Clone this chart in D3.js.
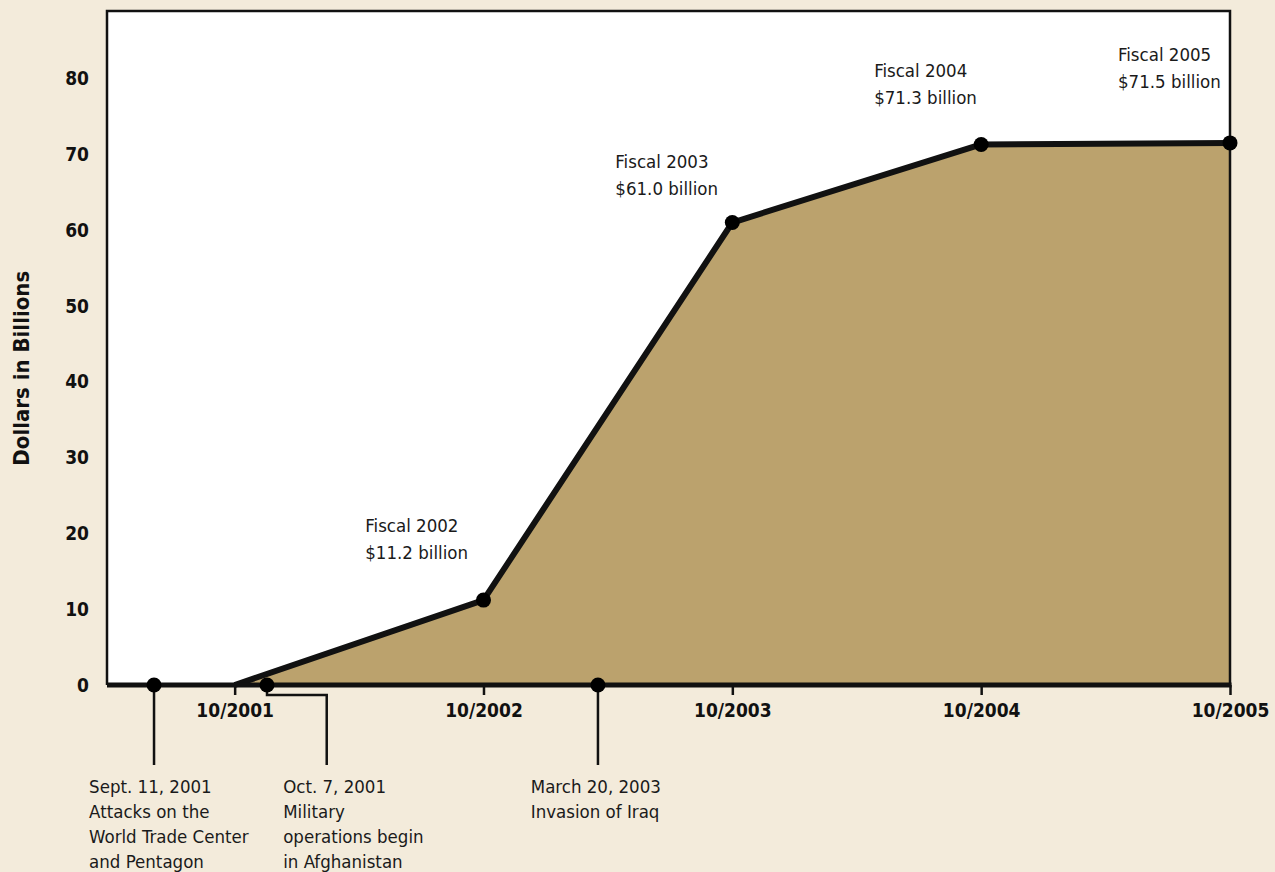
<!DOCTYPE html>
<html>
<head>
<meta charset="utf-8">
<script src="https://cdn.jsdelivr.net/npm/d3@7"></script>
<style>
  body { margin: 0; background: #f3ebdb; }
  svg text { font-family: "Liberation Sans Narrow", "Arial Narrow", "DejaVu Sans Condensed", sans-serif; }
</style>
</head>
<body>
<div id="chart"></div>
<script>
// fiscal year points (x in decimal years, 10/2001 = 2001.75)
const fiscalYears = [2001.75, 2002.75, 2003.75, 2004.75, 2005.75];
const spending = [0, 11.2, 61.0, 71.3, 71.5];
const fiscalNames = ["", "Fiscal 2002", "Fiscal 2003", "Fiscal 2004", "Fiscal 2005"];
const fiscalAmounts = ["", "$11.2 billion", "$61.0 billion", "$71.3 billion", "$71.5 billion"];
// where each fiscal label sits, in chart units [year, dollars]
const fiscalLabelAt = [null, [2002.275, 20.2], [2003.28, 68.2], [2004.32, 80.2], [2005.30, 82.3]];

const xTickYears = [2001.75, 2002.75, 2003.75, 2004.75, 2005.75];
const xTickLabels = ["10/2001", "10/2002", "10/2003", "10/2004", "10/2005"];
const yTicks = [0, 10, 20, 30, 40, 50, 60, 70, 80];

// events marked on the time axis
const eventYears = [2001.426, 2001.88, 2003.21];
const eventTextYears = [2001.165, 2001.945, 2002.94];
const eventElbowYears = [null, 2002.12, null];
const eventTexts = [
  ["Sept. 11, 2001", "Attacks on the", "World Trade Center", "and Pentagon"],
  ["Oct. 7, 2001", "Military", "operations begin", "in Afghanistan"],
  ["March 20, 2003", "Invasion of Iraq"]
];

const margin = {top: 11, left: 107};
const width = 1123, height = 674;

const svg = d3.select("#chart").append("svg")
  .attr("width", 1275)
  .attr("height", 872);

const g = svg.append("g")
  .attr("transform", `translate(${margin.left},${margin.top})`);

const x = d3.scaleLinear().domain([2001.237, 2005.75]).range([0, width]);
const y = d3.scaleLinear().domain([0, 88.9]).range([height, 0]);

const points = fiscalYears.map((yr, i) => ({yr, v: spending[i], i}));

// plot background
g.append("rect")
  .attr("width", width)
  .attr("height", height)
  .attr("fill", "#fff");

const area = d3.area().x(d => x(d.yr)).y0(y(0)).y1(d => y(d.v));
const line = d3.line().x(d => x(d.yr)).y(d => y(d.v));

g.append("path")
  .datum(points)
  .attr("d", area)
  .attr("fill", "#bba26d");

g.append("path")
  .datum(points)
  .attr("d", line)
  .attr("fill", "none")
  .attr("stroke", "#111")
  .attr("stroke-width", 6)
  .attr("stroke-linejoin", "round");

// frame (top, left, right)
g.append("path")
  .attr("d", `M0,${height} V0 H${width} V${height}`)
  .attr("fill", "none")
  .attr("stroke", "#111")
  .attr("stroke-width", 2.5);

// x axis
const xAxis = d3.axisBottom(x)
  .tickValues(xTickYears)
  .tickFormat((d, i) => xTickLabels[i])
  .tickSize(10)
  .tickSizeOuter(0)
  .tickPadding(9);

g.append("g")
  .attr("transform", `translate(0,${height})`)
  .call(xAxis)
  .call(a => a.select(".domain").remove())
  .call(a => a.selectAll("line").attr("stroke", "#111").attr("stroke-width", 2.5))
  .call(a => a.selectAll("text")
    .attr("fill", "#111")
    .style("font-size", "19px")
    .style("font-weight", "bold"));

g.append("line")
  .attr("x1", 0).attr("x2", width + 1.5)
  .attr("y1", height).attr("y2", height)
  .attr("stroke", "#111")
  .attr("stroke-width", 5);

// y axis labels only
const yAxis = d3.axisLeft(y).tickValues(yTicks).tickSize(0).tickPadding(18);
g.append("g")
  .call(yAxis)
  .call(a => a.select(".domain").remove())
  .call(a => a.selectAll("text")
    .attr("fill", "#111")
    .style("font-size", "19px")
    .style("font-weight", "bold"));

svg.append("text")
  .attr("transform", `translate(29,${margin.top + height * 0.53}) rotate(-90)`)
  .attr("text-anchor", "middle")
  .attr("fill", "#111")
  .style("font-size", "22px")
  .style("font-weight", "bold")
  .text("Dollars in Billions");

// fiscal dots and labels
const fp = points.filter(d => d.i > 0);
g.selectAll(".fdot")
  .data(fp)
  .enter().append("circle")
    .attr("cx", d => x(d.yr))
    .attr("cy", d => y(d.v))
    .attr("r", 7.5)
    .attr("fill", "#000");

const fl = g.selectAll(".flabel")
  .data(fp)
  .enter().append("text")
    .attr("x", d => x(fiscalLabelAt[d.i][0]))
    .attr("y", d => y(fiscalLabelAt[d.i][1]))
    .attr("fill", "#1a1a1a")
    .style("font-size", "18.5px");
fl.append("tspan").text(d => fiscalNames[d.i]);
fl.append("tspan")
  .attr("x", d => x(fiscalLabelAt[d.i][0]))
  .attr("dy", 27)
  .text(d => fiscalAmounts[d.i]);

// events
const ev = eventYears.map((yr, i) => ({yr, i}));
const leaderEnd = height + 80;

g.selectAll(".leader")
  .data(ev)
  .enter().append("path")
    .attr("d", d => {
      const x0 = x(d.yr);
      if (eventElbowYears[d.i] === null) return `M${x0},${height} V${leaderEnd}`;
      const x1 = x(eventElbowYears[d.i]);
      return `M${x0},${height} V${height + 10} H${x1} V${leaderEnd}`;
    })
    .attr("fill", "none")
    .attr("stroke", "#111")
    .attr("stroke-width", 2.5);

g.selectAll(".edot")
  .data(ev)
  .enter().append("circle")
    .attr("cx", d => x(d.yr))
    .attr("cy", height)
    .attr("r", 7.5)
    .attr("fill", "#000");

const et = g.selectAll(".etext")
  .data(ev)
  .enter().append("text")
    .attr("y", height + 108)
    .attr("fill", "#1a1a1a")
    .style("font-size", "18.5px");
et.selectAll("tspan")
  .data(d => eventTexts[d.i].map(t => ({t, x: x(eventTextYears[d.i])})))
  .enter().append("tspan")
    .attr("x", d => d.x)
    .attr("dy", (d, j) => j === 0 ? 0 : 25)
    .text(d => d.t);
</script>
</body>
</html>
